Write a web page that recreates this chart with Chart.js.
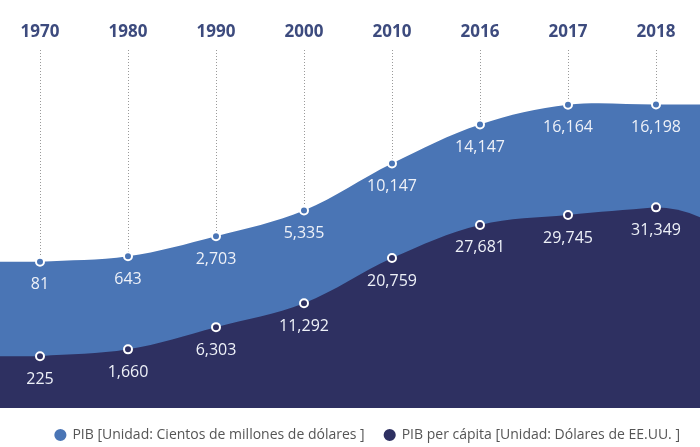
<!DOCTYPE html>
<html>
<head>
<meta charset="utf-8">
<script src="https://cdn.jsdelivr.net/npm/chart.js@4/dist/chart.umd.min.js"></script>
<style>
  body { margin: 0; background: #fff; overflow: hidden; }
  #wrap { width: 700px; height: 447px; overflow: hidden; }
  #pib-chart { margin-left: -4px; display: block; }
</style>
</head>
<body>
<div id="wrap"><canvas id="pib-chart" width="704" height="447"></canvas></div>
<script>
const years = ["1970", "1980", "1990", "2000", "2010", "2016", "2017", "2018"];
const pib = [81, 643, 2703, 5335, 10147, 14147, 16164, 16198];
const pibPerCapita = [225, 1660, 6303, 11292, 20759, 27681, 29745, 31349];
const seriesNames = [
  "PIB [Unidad: Cientos de millones de dólares ]",
  "PIB per cápita [Unidad: Dólares de EE.UU. ]",
];

const lightBlue = "#4a75b5";
const darkBlue = "#2e3061";

// fills the area out to the left / right edge of the chart
const edgeFill = {
  id: "edgeFill",
  beforeDatasetDraw(chart, args) {
    const meta = args.meta;
    const pts = meta.data;
    const ctx = chart.ctx;
    const first = pts[0];
    const last = pts[pts.length - 1];
    const bottom = chart.chartArea.bottom;
    const dip = meta.index === 1 ? 10 : 0;
    ctx.save();
    ctx.fillStyle = meta.dataset.options.backgroundColor;
    ctx.beginPath();
    ctx.moveTo(0, bottom);
    ctx.lineTo(0, first.y);
    ctx.lineTo(first.x + 1, first.y);
    ctx.lineTo(first.x + 1, bottom);
    ctx.closePath();
    ctx.fill();
    ctx.beginPath();
    ctx.moveTo(last.x - 1, bottom);
    ctx.lineTo(last.x - 1, last.y);
    ctx.quadraticCurveTo((last.x + chart.width) / 2, last.y, chart.width, last.y + dip);
    ctx.lineTo(chart.width, bottom);
    ctx.closePath();
    ctx.fill();
    ctx.restore();
  },
};

// value labels under each point
const valueLabels = {
  id: "valueLabels",
  afterDatasetsDraw(chart) {
    const ctx = chart.ctx;
    ctx.save();
    ctx.font = "16px 'Open Sans'";
    ctx.fillStyle = "#eef1f8";
    ctx.textAlign = "center";
    ctx.textBaseline = "middle";
    chart.data.datasets.forEach((ds, i) => {
      const meta = chart.getDatasetMeta(i);
      meta.data.forEach((pt, j) => {
        ctx.fillText(ds.data[j].toLocaleString("en-US"), pt.x, pt.y + 23);
      });
    });
    ctx.restore();
  },
};

const data = {
  labels: years,
  datasets: [
    {
      label: seriesNames[0],
      data: pib,
      yAxisID: "y1",
      order: 2,
      fill: "start",
      backgroundColor: lightBlue,
      borderWidth: 0,
      tension: 0.35,
      pointRadius: 4,
      pointBorderWidth: 2,
      pointBorderColor: "#ffffff",
      pointBackgroundColor: lightBlue,
    },
    {
      label: seriesNames[1],
      data: pibPerCapita,
      yAxisID: "y2",
      order: 1,
      fill: "start",
      backgroundColor: darkBlue,
      borderWidth: 0,
      tension: 0.35,
      pointRadius: 4,
      pointBorderWidth: 2,
      pointBorderColor: "#ffffff",
      pointBackgroundColor: darkBlue,
    },
  ],
};

const config = {
  type: "line",
  data: data,
  plugins: [edgeFill, valueLabels],
  options: {
    responsive: false,
    animation: false,
    layout: { autoPadding: false, padding: { top: 14, left: 0, right: 0, bottom: -5 } },
    scales: {
      x: {
        position: "top",
        offset: true,
        border: { display: false, dash: [1, 2] },
        grid: { color: "#9a9a9a", drawTicks: false },
        ticks: {
          padding: 8,
          color: "#3d4b7e",
          font: { family: "'Open Sans'", size: 17, weight: "bold" },
        },
      },
      y1: { display: false, min: -14900, max: 21740 },
      y2: { display: false, min: -10600, max: 64170 },
    },
    plugins: {
      tooltip: { enabled: false },
      legend: {
        position: "bottom",
        align: "end",
        labels: {
          sort: (a, b) => a.datasetIndex - b.datasetIndex,
          usePointStyle: true,
          pointStyle: "circle",
          boxWidth: 10,
          boxHeight: 10,
          padding: 20,
          color: "#555555",
          font: { family: "'Open Sans'", size: 14 },
        },
      },
    },
  },
};

new Chart(document.getElementById("pib-chart"), config);
</script>
</body>
</html>
